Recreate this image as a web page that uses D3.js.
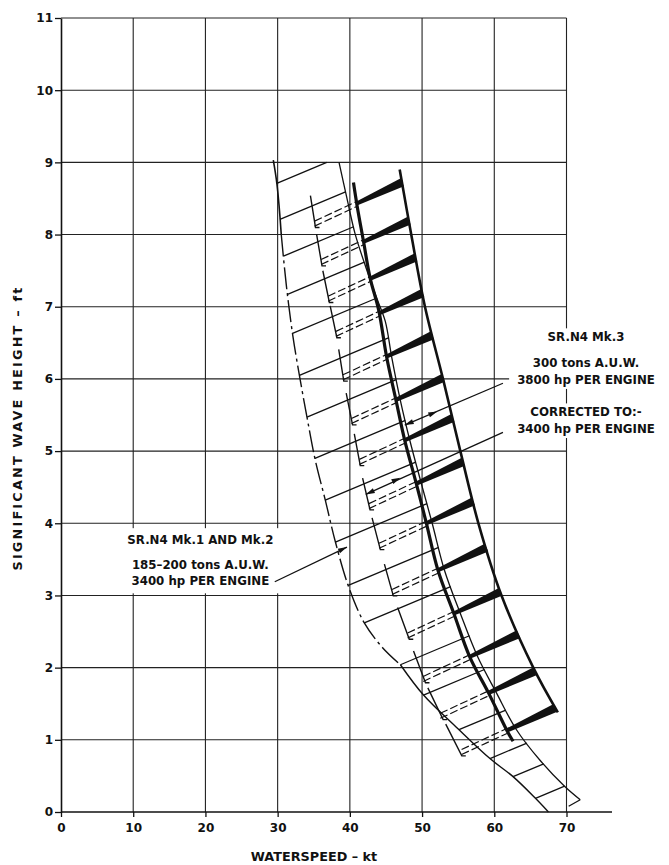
<!DOCTYPE html>
<html>
<head>
<meta charset="utf-8">
<script src="https://cdn.jsdelivr.net/npm/d3@7"></script>
<style>
  body { margin: 0; background: #fff; }
  svg { display: block; }
  text { font-family: "DejaVu Sans", sans-serif; font-weight: bold; fill: #111; }
</style>
</head>
<body>
<svg id="chart" width="669" height="865"></svg>
<script>
// axis ticks
const speedTicks = [0, 10, 20, 30, 40, 50, 60, 70];
const heightTicks = [0, 1, 2, 3, 4, 5, 6, 7, 8, 9, 10, 11];

// SR.N4 Mk.1/Mk.2 envelope, [kt, ft]
const mk12Left = [[29.4,9.03],[29.9,8.7],[30.5,8.0],[31.2,7.3],[32.1,6.6],[33.1,6.0],[34.1,5.45],[35.2,4.88],[36.6,4.32],[38.0,3.74],[39.9,3.1],[42.0,2.62],[44.5,2.28],[47.0,2.04],[50.2,1.62],[54.9,1.16],[59.4,0.74],[62.6,0.49],[65.7,0.19],[67.5,0.0]];
const mk12Right = [[38.5,9.0],[39.6,8.5],[40.7,8.02],[42.2,7.55],[43.8,7.1],[44.9,6.8],[45.8,6.3],[47.0,5.7],[48.3,5.15],[49.9,4.55],[51.4,4.0],[53.1,3.35],[55.3,2.75],[57.7,2.15],[60.3,1.65],[63.0,1.15],[66.3,0.72],[69.8,0.35],[71.9,0.17]];
const mk12RightEnd = [[71.9,0.17],[70.3,0.08]];
// heights (ft) where each Mk.1/2 cross line leaves the left boundary
const mk12Rungs = [8.71, 8.21, 7.70, 7.17, 6.63, 6.05, 5.47, 4.90, 4.32, 3.74, 3.14, 2.62, 2.04, 1.62, 1.14, 0.74, 0.49, 0.19];

// SR.N4 Mk.3, 3800 hp
const mk3Left = [[40.5,8.72],[41.0,8.4],[41.9,7.9],[42.8,7.4],[44.0,6.95],[45.1,6.3],[46.4,5.7],[47.6,5.15],[49.2,4.55],[50.6,4.0],[52.2,3.35],[54.4,2.75],[56.6,2.15],[59.2,1.65],[61.8,1.12],[62.6,0.98]];
const mk3Right = [[46.9,8.9],[48.5,8.0],[50.4,7.0],[52.9,6.0],[55.3,5.0],[57.8,4.0],[61.0,3.0],[65.4,2.0],[68.8,1.38]];
const mk3Bars = [8.43, 7.90, 7.39, 6.91, 6.31, 5.71, 5.15, 4.55, 4.00, 3.35, 2.75, 2.15, 1.65, 1.13];
// Mk.3 corrected to 3400 hp
const mk3Corrected = [[34.2,8.75],[35.4,8.0],[36.6,7.3],[38.0,6.7],[39.1,6.0],[40.5,5.3],[42.0,4.5],[43.9,3.75],[46.0,3.0],[48.2,2.4],[50.2,1.85],[52.5,1.35],[55.5,0.84]];

// labels
const leftNote = ['SR.N4 Mk.1 AND Mk.2', '185\u2013200 tons A.U.W.', '3400 hp PER ENGINE'];
const rightNoteA = ['SR.N4 Mk.3', '300 tons A.U.W.', '3800 hp PER ENGINE'];
const rightNoteB = ['CORRECTED TO:-', '3400 hp PER ENGINE'];

const svg = d3.select('#chart');
const x = d3.scaleLinear().domain([0, 70]).range([61, 566.5]);
const y = d3.scaleLinear().domain([0, 11]).range([812, 18]);
const xAxisEnd = 76.3;
const rungSlope = 0.042;   // ft per kt
const barSlope = 0.0465;

// x position of a curve at height h (curves run top to bottom)
function xAt(curve, h) {
  if (h >= curve[0][1]) return curve[0][0];
  for (let i = 1; i < curve.length; i++) {
    const [x0, h0] = curve[i - 1], [x1, h1] = curve[i];
    if (h <= h0 && h >= h1) return x0 + (x1 - x0) * (h0 - h) / (h0 - h1);
  }
  return curve[curve.length - 1][0];
}
// follow a straight line from (x0,h0) until it meets the curve
function meet(curve, x0, h0, slope, dir, hCap) {
  for (let k = 1; k < 1000; k++) {
    const xk = x0 + dir * k * 0.04, hk = h0 + slope * (xk - x0);
    if (hCap !== undefined && hk >= hCap) return [xk, hk];
    const xc = xAt(curve, hk);
    if ((dir > 0 && xk >= xc) || (dir < 0 && xk <= xc)) return [xk, hk];
  }
  return [x0, h0];
}

// grid
const grid = svg.append('g').attr('stroke', '#222').attr('stroke-width', 1.1);
grid.selectAll('.vgrid').data(speedTicks.filter(d => d > 0)).enter().append('line')
  .attr('x1', d => x(d)).attr('x2', d => x(d)).attr('y1', y(0)).attr('y2', y(11));
grid.selectAll('.hgrid').data(heightTicks.filter(d => d > 0)).enter().append('line')
  .attr('x1', x(0)).attr('x2', x(70)).attr('y1', d => y(d)).attr('y2', d => y(d));

// axes
const yAxis = svg.append('g').attr('transform', 'translate(' + x(0) + ',0)')
  .call(d3.axisLeft(y).tickValues(heightTicks).tickSize(6).tickSizeOuter(0).tickPadding(2));
const xAxis = svg.append('g').attr('transform', 'translate(0,' + y(0) + ')')
  .call(d3.axisBottom(x).tickValues(speedTicks).tickSize(5).tickSizeOuter(0).tickPadding(6));
xAxis.select('.domain').remove();
xAxis.append('line').attr('x1', x(0)).attr('x2', x(xAxisEnd)).attr('stroke', '#111').attr('stroke-width', 1.6);
yAxis.select('.domain').attr('stroke', '#111').attr('stroke-width', 1.6);
svg.selectAll('.tick line').attr('stroke', '#111').attr('stroke-width', 1.3);
svg.selectAll('.tick text').attr('font-size', 12).attr('font-family', '"DejaVu Sans", sans-serif')
  .attr('font-weight', 'bold').attr('fill', '#111');

svg.append('text').attr('x', 314).attr('y', 861).attr('text-anchor', 'middle')
  .attr('font-size', 12.8).text('WATERSPEED \u2013 kt');
svg.append('text').attr('transform', 'translate(22,428) rotate(-90)').attr('text-anchor', 'middle')
  .attr('font-size', 12.8).attr('letter-spacing', 2.2).text('SIGNIFICANT WAVE HEIGHT \u2013 ft');

// annotation blocks with white backing
function note(lines, cx, heights, padX, padY) {
  const g = svg.append('g');
  const rect = g.append('rect').attr('fill', '#fff');
  g.selectAll('text').data(lines).enter().append('text')
    .attr('x', x(cx)).attr('y', (d, i) => y(heights[i]) + 4.3)
    .attr('text-anchor', 'middle').attr('font-size', 11.8).text(d => d);
  const b = g.node().getBBox();
  rect.attr('x', b.x - padX).attr('y', b.y - padY).attr('width', b.width + 2 * padX).attr('height', b.height + 2 * padY);
  return g;
}
note(leftNote, 19.3, [3.77, 3.42, 3.20], 9, 5);
note(rightNoteA, 72.7, [6.58, 6.22, 5.99], 8, 2);
note(rightNoteB, 72.7, [5.54, 5.31], 8, 2);

const line = d3.line().x(d => x(d[0])).y(d => y(d[1])).curve(d3.curveCatmullRom.alpha(0.5));
const straight = d3.line().x(d => x(d[0])).y(d => y(d[1]));
const draw = svg.append('g').attr('fill', 'none').attr('stroke', '#111').attr('stroke-linecap', 'butt');

// Mk.1/Mk.2 boundaries
draw.append('path').attr('d', line(mk12Left.filter(d => d[1] >= 8.0))).attr('stroke-width', 1.6);
draw.append('path').attr('d', line(mk12Left.filter(d => d[1] <= 8.0 && d[1] >= 2.04)))
  .attr('stroke-width', 1.4).attr('stroke-dasharray', '22,4,3,4');
draw.append('path').attr('d', line(mk12Left.filter(d => d[1] <= 2.04))).attr('stroke-width', 1.4);
draw.append('path').attr('d', line(mk12Right)).attr('stroke-width', 1.3);
draw.append('path').attr('d', straight(mk12RightEnd)).attr('stroke-width', 1.3);

// Mk.1/Mk.2 cross lines
draw.selectAll('.rung').data(mk12Rungs).enter().append('path')
  .attr('class', 'rung').attr('stroke-width', 1.3)
  .attr('d', h => {
    const x0 = xAt(mk12Left, h);
    return straight([[x0, h], meet(mk12Right, x0, h, rungSlope, 1, 9.0)]);
  });

// corrected 3400 hp: dashed pairs from the Mk.3 left edge back to the corrected boundary
const corr = mk3Bars.map(h => {
  const x0 = xAt(mk3Left, h);
  return { h: h, x0: x0, end: meet(mk3Corrected, x0, h, barSlope, -1) };
});
[-2, 3].forEach(off => {
  draw.selectAll('.pair' + off).data(corr).enter().append('line')
    .attr('stroke-width', 1.2).attr('stroke-dasharray', '8,3')
    .attr('x1', d => x(d.end[0])).attr('y1', d => y(d.end[1]) + off)
    .attr('x2', d => x(d.x0)).attr('y2', d => y(d.h) + off);
});
draw.selectAll('.mseg').data(corr).enter().append('path')
  .attr('stroke-width', 1.4)
  .attr('d', d => {
    const hTop = d.end[1] + 0.38, hBot = d.end[1] - 0.06;
    const pTop = [x(xAt(mk3Corrected, hTop)), y(hTop)];
    const pBot = [x(xAt(mk3Corrected, hBot)), y(hBot)];
    return 'M' + pTop + 'L' + pBot + 'l4,0';
  });

// Mk.3 boundaries and heavy bars
draw.append('path').attr('d', line(mk3Left)).attr('stroke-width', 3.2);
draw.append('path').attr('d', line(mk3Right)).attr('stroke-width', 2.6);
svg.append('g').selectAll('path').data(mk3Bars).enter().append('path')
  .attr('fill', '#111')
  .attr('d', h => {
    const x0 = xAt(mk3Left, h);
    const e = meet(mk3Right, x0, h, barSlope, 1);
    const a = [x(x0), y(h)], b = [x(e[0]), y(e[1])];
    const len = Math.hypot(b[0] - a[0], b[1] - a[1]);
    const n = [-(b[1] - a[1]) / len, (b[0] - a[0]) / len];
    const wl = 2.0, wr = 4.2;
    return 'M' + [a[0] - n[0] * wl, a[1] - n[1] * wl] + 'L' + [b[0] - n[0] * wr, b[1] - n[1] * wr] +
      'L' + [b[0] + n[0] * wr, b[1] + n[1] * wr] + 'L' + [a[0] + n[0] * wl, a[1] + n[1] * wl] + 'Z';
  });

// leader lines
function arrowHead(tip, from) {
  const a = [x(tip[0]), y(tip[1])], b = [x(from[0]), y(from[1])];
  const len = Math.hypot(a[0] - b[0], a[1] - b[1]);
  const u = [(a[0] - b[0]) / len, (a[1] - b[1]) / len], n = [-u[1], u[0]];
  const base = [a[0] - u[0] * 9, a[1] - u[1] * 9];
  svg.append('path').attr('fill', '#111')
    .attr('d', 'M' + a + 'L' + [base[0] + n[0] * 2.6, base[1] + n[1] * 2.6] + 'L' + [base[0] - n[0] * 2.6, base[1] - n[1] * 2.6] + 'Z');
}
const leaders = [
  { from: [29.6, 3.19], to: [39.6, 3.67], extra: null },
  { from: [61.2, 5.94], to: [47.6, 5.36], extra: [52.1, 5.55] },
  { from: [61.2, 5.26], to: [42.2, 4.40], extra: [47.0, 4.63] }
];
leaders.forEach(l => {
  draw.append('path').attr('d', straight([l.from, l.to])).attr('stroke-width', 1.3);
  arrowHead(l.to, l.from);
  if (l.extra) arrowHead(l.extra, l.to);
});
</script>
</body>
</html>
